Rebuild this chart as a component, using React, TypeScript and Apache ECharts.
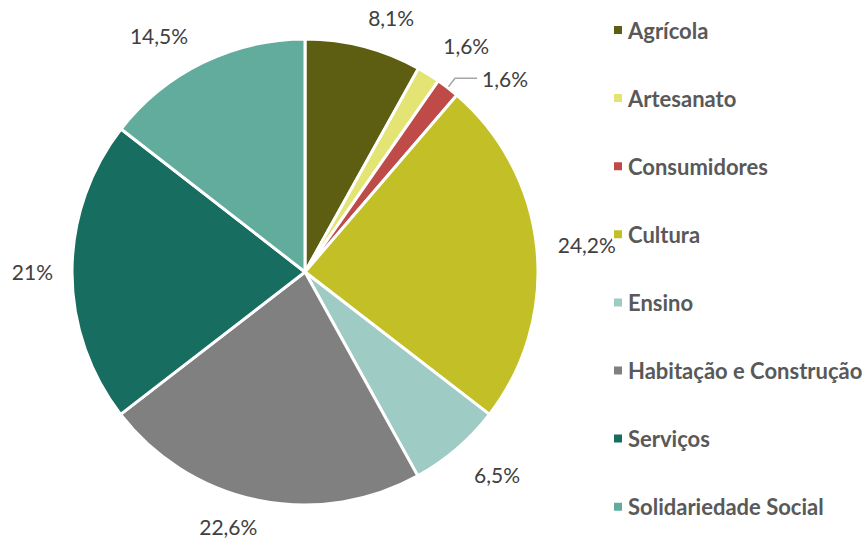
import React, { useEffect, useRef } from "react";
import * as echarts from "echarts";

const categories = [
  "Agrícola",
  "Artesanato",
  "Consumidores",
  "Cultura",
  "Ensino",
  "Habitação e Construção",
  "Serviços",
  "Solidariedade Social",
];
const values = [8.1, 1.6, 1.6, 24.2, 6.5, 22.6, 21, 14.5];
const labels = ["8,1%", "1,6%", "1,6%", "24,2%", "6,5%", "22,6%", "21%", "14,5%"];
const colors = ["#5E5E13", "#E3E474", "#BE4B48", "#C2C026", "#9ECBC3", "#808080", "#176D5F", "#62AC9E"];
const lineLengths = [26, 24, 12, 12, 22, 22, 10, 24];
const labelShift = [
  [-11, -4],
  [-7, -9],
  [0, 0],
  [0, -3],
  [-6, 9],
  [13, 5],
  [0, 0],
  [5, -6],
];

export default function App() {
  const ref = useRef<HTMLDivElement>(null);
  useEffect(() => {
    document.body.style.margin = "0";
    const chart = echarts.init(ref.current!, null, { renderer: "svg" });
    const font = "Lato, 'Open Sans', sans-serif";
    chart.setOption({
      animation: false,
      color: colors,
      legend: {
        orient: "vertical",
        left: 607,
        top: 14,
        itemGap: 46.1,
        itemWidth: 10,
        itemHeight: 10,
        icon: "rect",
        textStyle: { fontSize: 22, fontWeight: "bold", color: "#595959", fontFamily: font },
        data: categories,
      },
      series: [
        {
          type: "pie",
          center: [305, 272],
          radius: 233,
          startAngle: 90,
          clockwise: true,
          itemStyle: { borderColor: "#fff", borderWidth: 3 },
          label: {
            show: true,
            position: "outside",
            fontSize: 21,
            color: "#404040",
            fontFamily: font,
            formatter: (p: any) => labels[p.dataIndex],
          },
          labelLayout: (p: any) => ({ dx: labelShift[p.dataIndex][0], dy: labelShift[p.dataIndex][1] }),
          data: categories.map((c, i) => ({
            name: c,
            value: values[i],
            labelLine:
              i === 2
                ? { show: true, length: 12, length2: 22, lineStyle: { color: "#A6A6A6", width: 1.5 } }
                : { show: false, length: lineLengths[i], length2: 4 },
          })),
        },
      ],
    });
    return () => chart.dispose();
  }, []);
  return <div ref={ref} style={{ width: 867, height: 542 }} />;
}
